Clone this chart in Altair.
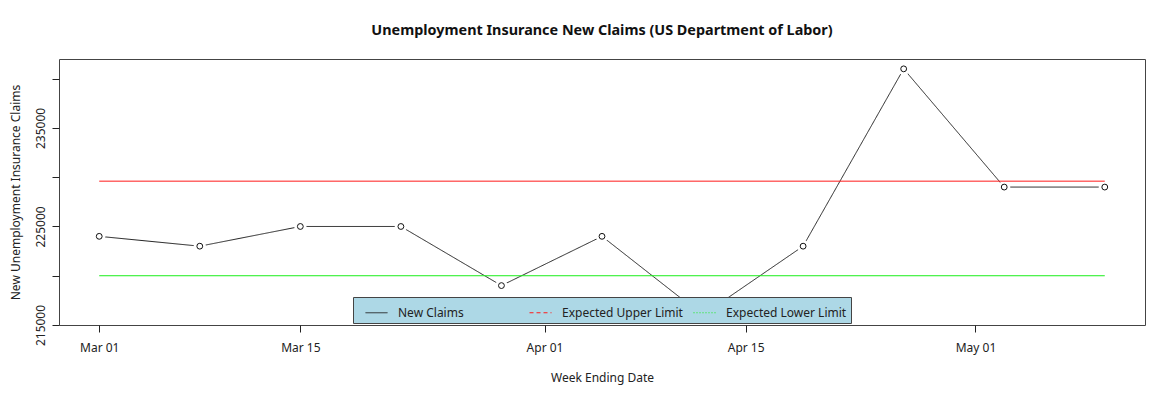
import pandas as pd
import altair as alt

# weekly new claims (week ending Saturday)
weeks = ['2014-03-01', '2014-03-08', '2014-03-15', '2014-03-22', '2014-03-29',
         '2014-04-05', '2014-04-12', '2014-04-19', '2014-04-26', '2014-05-03',
         '2014-05-10']
claims = [224000, 223000, 225000, 225000, 219000,
          224000, 216000, 223000, 241000, 229000,
          229000]

upper_limit = 229600
lower_limit = 220000

series_names = ['New Claims', 'Expected Upper Limit', 'Expected Lower Limit']
series_colors = ['#222222', '#ff1a1a', '#1aee1a']
series_dashes = [[1, 0], [4, 3], [1, 2]]

x_ticks = ['2014-03-01', '2014-03-15', '2014-04-01', '2014-04-15', '2014-05-01']
y_ticks = [215000, 220000, 225000, 230000, 235000, 240000]

FONT = 'Noto Sans'

claims_df = pd.DataFrame({'week': weeks, 'claims': claims, 'series': series_names[0]})
limits_df = pd.DataFrame({
    'week': [weeks[0], weeks[-1], weeks[0], weeks[-1]],
    'claims': [upper_limit, upper_limit, lower_limit, lower_limit],
    'series': [series_names[1], series_names[1], series_names[2], series_names[2]],
})

def to_dt(s):
    t = pd.Timestamp(s)
    return alt.DateTime(year=t.year, month=t.month, date=t.day, utc=True)

x_scale = alt.Scale(type='utc', domain=[alt.DateTime(year=2014, month=2, date=26, hours=4, minutes=48, utc=True),
                                        alt.DateTime(year=2014, month=5, date=12, hours=19, minutes=12, utc=True)])
y_scale = alt.Scale(domain=[215000, 242000], nice=False, zero=False)

x_enc = alt.X('week:T', scale=x_scale, title='Week Ending Date',
              axis=alt.Axis(values=[to_dt(d) for d in x_ticks], format='%b %d', grid=False,
                            domain=False, tickSize=7, tickColor='#222', labelPadding=10,
                            labelFont=FONT, labelFontSize=12, labelColor='#222',
                            titleFont=FONT, titleFontSize=12, titleFontWeight='normal',
                            titleColor='#222', titleY=52, titleBaseline='middle'))
y_enc = alt.Y('claims:Q', scale=y_scale, title='New Unemployment Insurance Claims',
              axis=alt.Axis(values=y_ticks, format='d', grid=False, domain=False,
                            labelExpr="(datum.value - 215000) % 10000 == 0 ? datum.label : ''",
                            labelAngle=-90, labelAlign='center', labelBaseline='bottom',
                            tickSize=7, tickColor='#222', labelPadding=5,
                            labelFont=FONT, labelFontSize=12, labelColor='#222',
                            titleFont=FONT, titleFontSize=12, titleFontWeight='normal',
                            titleColor='#222', titleX=-37, titleBaseline='bottom'))

legend = alt.Legend(title=None, orient='none', legendX=294, legendY=238,
                    direction='horizontal', columns=3, gridAlign='all',
                    symbolType='stroke', symbolSize=484, symbolStrokeWidth=1,
                    symbolOffset=8, columnPadding=2, labelOffset=10,
                    labelFont=FONT, labelFontSize=12, labelColor='#222',
                    fillColor='#add8e6', strokeColor='#444', padding=4)

# claims line; its colour and dash scales carry all three series, so the legend lists them all
claim_line = alt.Chart(claims_df).mark_line(strokeWidth=1).encode(
    x=x_enc, y=y_enc,
    color=alt.Color('series:N', scale=alt.Scale(domain=series_names, range=series_colors),
                    legend=legend),
    strokeDash=alt.StrokeDash('series:N', scale=alt.Scale(domain=series_names, range=series_dashes),
                              legend=legend),
)

halo = alt.Chart(claims_df).mark_point(shape='circle', filled=True, color='white', opacity=1,
                                       size=150).encode(x='week:T', y='claims:Q')

upper_line = alt.Chart(limits_df).transform_filter(
    alt.datum.series == series_names[1]
).mark_line(strokeWidth=1, color=series_colors[1]).encode(x='week:T', y='claims:Q')

lower_line = alt.Chart(limits_df).transform_filter(
    alt.datum.series == series_names[2]
).mark_line(strokeWidth=1, color=series_colors[2]).encode(x='week:T', y='claims:Q')

points = alt.Chart(claims_df).mark_point(shape='circle', filled=False, color='#111', size=34,
                                         strokeWidth=1, opacity=1).encode(x='week:T', y='claims:Q')

chart = alt.layer(claim_line, halo, upper_line, lower_line, points).properties(
    width=1086, height=266,
    autosize=alt.AutoSizeParams(type='none'),
    padding={'left': 51, 'top': 51, 'right': 20, 'bottom': 70},
    title=alt.TitleParams('Unemployment Insurance New Claims (US Department of Labor)',
                          font=FONT, fontSize=14.4, fontWeight='bold', color='#111',
                          anchor='middle', offset=21),
).configure_view(stroke='#444', strokeWidth=1)

chart.save('out.html', embed_options={'renderer': 'svg', 'actions': False})
